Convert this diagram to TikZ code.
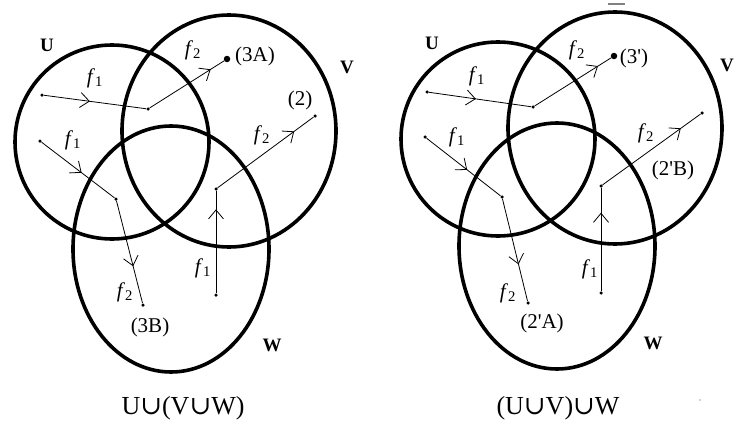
\documentclass[tikz,border=0pt]{standalone}
\usepackage{fontspec}
\setmainfont{Liberation Serif}
\newfontfamily\cupfont{DejaVu Serif}
\usetikzlibrary{arrows.meta, decorations.markings}

\newcommand{\fl}[1]{\textit{f}\textsubscript{#1}}
\newcommand{\un}{{\cupfont ∪}}

\tikzset{
  ring/.style={line width=3.6pt},
  flow/.style={line width=0.8pt, postaction={decorate},
    decoration={markings, mark=at position #1 with
      {\arrow{Straight Barb[length=9pt,width=15pt,line width=0.8pt]}}}},
  dot/.style={circle, fill, inner sep=0pt, minimum size=3.5pt},
  bigdot/.style={circle, fill, inner sep=0pt, minimum size=6.5pt},
  setlbl/.style={font=\fontsize{19}{22}\selectfont\bfseries},
  lbl/.style={font=\fontsize{21}{25}\selectfont, inner sep=0pt},
  ttl/.style={font=\fontsize{26}{31}\selectfont, inner sep=0pt}
}

\begin{document}
\begin{tikzpicture}[x=1pt, y=-1pt]
\useasboundingbox (0,0) rectangle (734,423);

% left: U u (V u W)
\draw[ring] (112,142) ellipse [x radius=97, y radius=97];
\draw[ring] (229,131) ellipse [x radius=107, y radius=116];
\draw[ring] (171,249) ellipse [x radius=98, y radius=123];

\node[dot] (l1) at (42,95) {};
\node[dot] (l2) at (148,109) {};
\node[bigdot] (l3) at (227,59) {};
\node[dot] (l4) at (40,141) {};
\node[dot] (l5) at (116,199) {};
\node[dot] (l6) at (143,305) {};
\node[dot] (l7) at (216,295) {};
\node[dot] (l8) at (216,189) {};
\node[dot] (l9) at (315,116) {};
\draw[flow=0.45] (l1) -- (l2);
\draw[flow=0.82] (l2) -- (l3);
\draw[flow=0.55] (l4) -- (l5);
\draw[flow=0.64] (l5) -- (l6);
\draw[flow=0.82] (l7) -- (l8);
\draw[flow=0.80] (l8) -- (l9);

\node[setlbl] (lu) at (47,45) {U};
\node[setlbl] (lv) at (347,67) {V};
\node[setlbl] (lw) at (272,345) {W};
\node[lbl] (lf1) at (95,78) {\fl{1}};
\node[lbl] (lf2) at (73,140) {\fl{1}};
\node[lbl] (lf3) at (193,50) {\fl{2}};
\node[lbl] (lf4) at (262,135) {\fl{2}};
\node[lbl] (lf5) at (203,268) {\fl{1}};
\node[lbl] (lf6) at (125,292) {\fl{2}};
\node[lbl] (l3a) at (255,56) {(3A)};
\node[lbl] (l2x) at (300,100) {(2)};
\node[lbl] (l3b) at (150,327) {(3B)};
\node[ttl] (ltitle) at (183,408) {U\un(V\un W)};

% right: (U u V) u W
\draw[ring] (498,139) ellipse [x radius=97, y radius=97];
\draw[ring] (615,128) ellipse [x radius=107, y radius=116];
\draw[ring] (557,246) ellipse [x radius=98, y radius=123];

\node[dot] (r1) at (427,92) {};
\node[dot] (r2) at (533,107) {};
\node[bigdot] (r3) at (614,56) {};
\node[dot] (r4) at (425,137) {};
\node[dot] (r5) at (502,197) {};
\node[dot] (r6) at (528,303) {};
\node[dot] (r7) at (601,293) {};
\node[dot] (r8) at (601,186) {};
\node[dot] (r9) at (702,113) {};
\draw[flow=0.46] (r1) -- (r2);
\draw[flow=0.83] (r2) -- (r3);
\draw[flow=0.55] (r4) -- (r5);
\draw[flow=0.64] (r5) -- (r6);
\draw[flow=0.76] (r7) -- (r8);
\draw[flow=0.80] (r8) -- (r9);

\node[setlbl] (ru) at (432,43) {U};
\node[setlbl] (rv) at (727,65) {V};
\node[setlbl] (rw) at (653,343) {W};
\node[lbl] (rf1) at (477,76) {\fl{1}};
\node[lbl] (rf2) at (457,137) {\fl{1}};
\node[lbl] (rf3) at (577,50) {\fl{2}};
\node[lbl] (rf4) at (646,133) {\fl{2}};
\node[lbl] (rf5) at (590,269) {\fl{1}};
\node[lbl] (rf6) at (508,293) {\fl{2}};
\node[lbl] (r3x) at (634,58) {(3\textquotesingle)};
\node[lbl] (r2b) at (673,170) {(2\textquotesingle B)};
\node[lbl] (r2a) at (542,323) {(2\textquotesingle A)};
\node[ttl] (rtitle) at (558,408) {(U\un V)\un W};

% stray marks
\draw[line width=1.2pt, gray] (608,4) -- (625,4);
\fill[gray!70] (700,400) circle (0.8);
\end{tikzpicture}
\end{document}
